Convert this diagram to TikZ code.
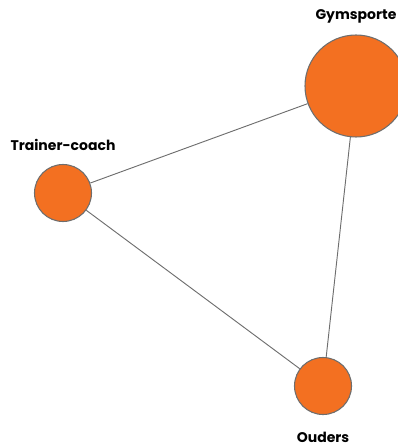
\documentclass[tikz,border=0pt]{standalone}
\usepackage{fontspec}
\setmainfont{Poppins}[UprightFont=* Bold]
\definecolor{nodeorange}{HTML}{F37021}
\definecolor{edgegray}{HTML}{6E6E6E}
\begin{document}
\begin{tikzpicture}[x=0.75pt, y=-0.75pt,
    pt/.style={circle, fill=nodeorange, draw=edgegray, line width=0.8pt, inner sep=0pt},
    lbl/.style={font=\fontsize{10.5}{12}\selectfont, text=black},
    edge/.style={draw=edgegray, line width=0.7pt}]
        \useasboundingbox (0,0) rectangle (398,445);
        \node[pt, minimum size=102*0.75pt] (gym) at (356,86) {};
        \node[pt, minimum size=57*0.75pt] (coach) at (63,193) {};
        \node[pt, minimum size=57*0.75pt] (ouders) at (323,386) {};
        \node[lbl] (gymlbl) at (356,16) {Gymsporte};
        \node[lbl] (coachlbl) at (63,145) {Trainer-coach};
        \node[lbl] (ouderslbl) at (323,437) {Ouders};
        \foreach \a/\b in {gym/coach, coach/ouders, ouders/gym} \path[edge] (\a) -- (\b);
    \end{tikzpicture}
\end{document}
